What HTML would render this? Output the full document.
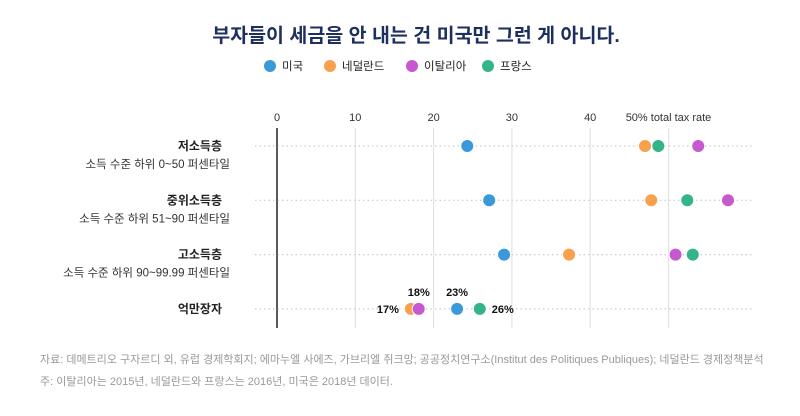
<!DOCTYPE html>
<html><head><meta charset="utf-8"><style>
body{margin:0;width:800px;height:411px;background:#fff;font-family:"Liberation Sans","Noto Sans CJK KR",sans-serif;overflow:hidden}
svg text{font-family:"Liberation Sans","Noto Sans CJK KR",sans-serif}
</style></head><body>
<svg width="800" height="411">
<text x="416" y="42" text-anchor="middle" font-size="19.5" font-weight="bold" fill="#1c2f5e">부자들이 세금을 안 내는 건 미국만 그런 게 아니다.</text>
<g id="legend"></g>
<g id="grid"></g>
<g id="marks"></g>
<text x="40" y="363" font-size="11" fill="#999">자료: 데메트리오 구자르디 외, 유럽 경제학회지; 에마누엘 사에즈, 가브리엘 쥐크망; 공공정치연구소(Institut des Politiques Publiques); 네덜란드 경제정책분석</text>
<text x="40" y="385" font-size="11" fill="#999">주: 이탈리아는 2015년, 네덜란드와 프랑스는 2016년, 미국은 2018년 데이터.</text>
</svg>
<script>
const categories=["저소득층","중위소득층","고소득층","억만장자"];
const subLabels=["소득 수준 하위 0~50 퍼센타일","소득 수준 하위 51~90 퍼센타일","소득 수준 하위 90~99.99 퍼센타일",""];
const seriesNames=["미국","네덜란드","이탈리아","프랑스"];
const usa=[24.3,27.1,29,23];
const netherlands=[47,47.8,37.3,17.1];
const italy=[53.8,57.6,50.9,18.1];
const france=[48.7,52.4,53.1,25.9];
const ticks=[0,10,20,30,40];
const colors=["#3a9ad9","#f9a04e","#c658d0","#35b38a"];
const NS="http://www.w3.org/2000/svg";
const x=v=>277+v*7.83;
const y=i=>146+i*54.3;
function mk(t,a,p){const e=document.createElementNS(NS,t);for(const k in a)e.setAttribute(k,a[k]);p.appendChild(e);return e;}
const grid=document.getElementById('grid'),marks=document.getElementById('marks'),leg=document.getElementById('legend');
ticks.forEach(t=>{
 const l=mk('line',{x1:x(t),x2:x(t),y1:128,y2:328,stroke:t==0?'#222':'#e3e3e3','stroke-width':t==0?1.5:1.2},grid);
 
 
 const tx=mk('text',{x:x(t),y:121,'text-anchor':'middle','font-size':11,fill:'#333'},grid);tx.textContent=t;
 
 
});
const l50=mk('line',{x1:x(50),x2:x(50),y1:128,y2:328,stroke:'#e3e3e3','stroke-width':1.2},grid);


const t50=mk('text',{x:x(50),y:121,'text-anchor':'middle','font-size':11,fill:'#333'},grid);t50.textContent="50% total tax rate";


categories.forEach((c,i)=>{
 const d=mk('line',{x1:255,x2:752,y1:y(i),y2:y(i),stroke:'#ccc','stroke-dasharray':'1.5 3','stroke-width':1.2},grid);
 
 
 const t=mk('text',{x:222,y:y(i)+4,'text-anchor':'end','font-size':12,'font-weight':'bold',fill:'#222'},grid);t.textContent=c;
 
 
 if(subLabels[i]){const s=mk('text',{x:230,y:y(i)+22,'text-anchor':'end','font-size':11.5,fill:'#333'},grid);s.textContent=subLabels[i];
 
 }
});
[netherlands,italy,usa,france].forEach((arr,k)=>{
 const ci=[1,2,0,3][k];
 arr.forEach((v,i)=>{
  const c=mk('circle',{cx:x(v),cy:y(i),r:6.5,fill:colors[ci],stroke:'#fff','stroke-width':1},marks);
  
  
 });
});
const bl=[[netherlands[3],-12,4,'end'],[italy[3],0,-13,'middle'],[usa[3],0,-13,'middle'],[france[3],12,4,'start']];
bl.forEach(([v,dx,dy,a])=>{const t=mk('text',{x:x(v)+dx,y:y(3)+dy,'text-anchor':a,'font-size':11,'font-weight':'bold',fill:'#111'},marks);t.textContent=Math.round(v)+'%';
 
 });
const lx=[270,330,412,488];
seriesNames.forEach((n,i)=>{
 const c=mk('circle',{cx:lx[i],cy:66,r:6,fill:colors[i]},leg);
 
 
 const t=mk('text',{x:lx[i]+12,y:70,'font-size':11.5,fill:'#222'},leg);t.textContent=n;
 
 
});
</script>
</body></html>
